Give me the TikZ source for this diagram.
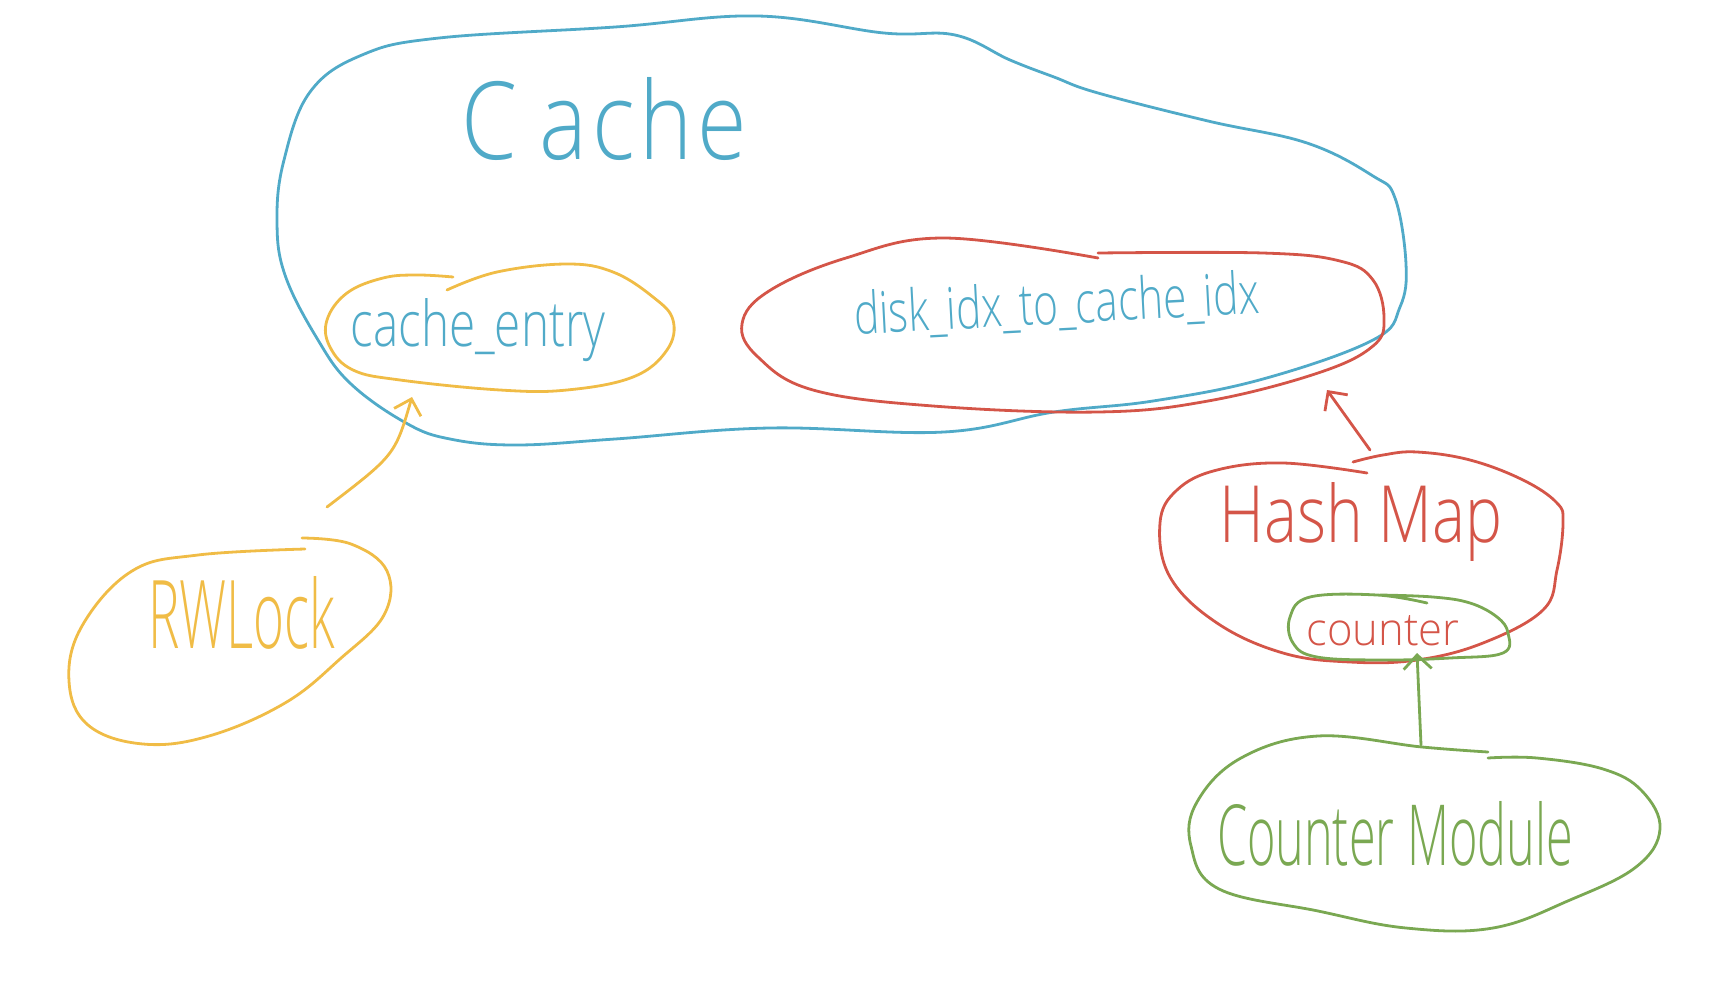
\documentclass[tikz,border=0pt]{standalone}
\usepackage{fontspec}
\setmainfont{Open Sans Light}
\usepackage{graphicx}
\usetikzlibrary{arrows.meta}
\definecolor{cblue}{RGB}{80,170,200}
\definecolor{cyellow}{RGB}{240,188,70}
\definecolor{cred}{RGB}{212,85,72}
\definecolor{cgreen}{RGB}{122,168,82}
\begin{document}
\begin{tikzpicture}[x=1pt,y=-1pt,
  blob/.style={line width=2.8pt, line cap=round, line join=round},
  lbl/.style={inner sep=0pt, anchor=base},
  hand/.style={-{Straight Barb[length=14pt,width=28pt]}, line width=2.8pt, line cap=round, line join=round}]
\useasboundingbox (0,0) rectangle (1722,986);

% Cache blob
\draw[blob, cblue] plot[smooth cycle, tension=0.65] coordinates {
 (884,33) (758,16) (615,27) (439,38) (362,55) (310,92) (284,160) (277,220)
 (285,275) (318,340) (351,384) (406,423) (450,439) (516,445) (615,439)
 (769,428) (944,432) (1054,412) (1153,401) (1263,379) (1373,340) (1400,307)
 (1406,264) (1395,198) (1373,176) (1307,143) (1208,121) (1098,93) (1054,77)
 (1010,60) (955,35)};
\node[lbl, text=cblue] (cache) at (604,159) {\resizebox{285pt}{82pt}{C\kern0.25em a\kern0.05em c\kern0.05em h\kern0.05em e}};

% cache_entry blob
\draw[blob, cyellow] plot[smooth, tension=0.65] coordinates {
 (447,290) (497,272) (567,264) (613,272) (653,297) (673,320) (667,350)
 (633,377) (567,390) (500,390) (400,380) (353,370) (330,347) (327,320)
 (347,293) (383,278) (417,275) (453,277)};
\node[lbl, text=cblue] (centry) at (478,346) {\resizebox{255pt}{48pt}{cache\_entry}};

% disk_idx_to_cache_idx blob
\draw[blob, cred] plot[smooth, tension=0.65] coordinates {
 (1098,258) (944,238) (846,258) (769,291) (742,324) (758,357) (813,390)
 (933,406) (1098,412) (1208,401) (1318,373) (1373,346) (1384,318)
 (1373,280) (1340,261) (1263,253) (1098,253)};
\node[lbl, text=cblue, rotate=3] (disk) at (1058,324) {\resizebox{406pt}{44pt}{disk\_idx\_to\_cache\_idx}};

% Hash Map blob
\draw[blob, cred] plot[smooth, tension=0.65] coordinates {
 (1367,473) (1283,463) (1217,470) (1177,490) (1160,523) (1170,577)
 (1217,623) (1283,653) (1350,662) (1417,660) (1483,643) (1543,610)
 (1557,570) (1563,523) (1557,503) (1523,480) (1470,460) (1417,452)
 (1383,455) (1353,462)};
\node[lbl, text=cred] (hash) at (1361,542) {\resizebox{283pt}{60pt}{Hash Map}};

% counter blob
\draw[blob, cgreen] plot[smooth, tension=0.65] coordinates {
 (1427,603) (1377,595) (1310,597) (1290,617) (1293,643) (1317,657)
 (1383,660) (1450,658) (1503,653) (1508,633) (1497,617) (1470,603)
 (1433,597) (1380,595)};
\node[lbl, text=cred] (counter) at (1383,645) {\resizebox{153pt}{30pt}{counter}};

% Counter Module blob
\draw[blob, cgreen] plot[smooth, tension=0.65] coordinates {
 (1488,752) (1422,747) (1318,736) (1241,758) (1197,802) (1191,846)
 (1219,889) (1318,911) (1406,928) (1493,928) (1570,900) (1636,867)
 (1660,829) (1642,791) (1603,769) (1537,758) (1488,758)};
\node[lbl, text=cgreen] (cmod) at (1395,865) {\resizebox{356pt}{64pt}{Counter Module}};

% RWLock blob
\draw[blob, cyellow] plot[smooth, tension=0.65] coordinates {
 (305,549) (198,555) (132,571) (82,626) (69,681) (88,725) (143,744)
 (209,736) (285,703) (340,659) (384,615) (387,571) (351,544) (302,538)};
\node[lbl, text=cyellow] (rwlock) at (242,648) {\resizebox{187pt}{72pt}{RWLock}};

% connectors
\coordinate (rwtop) at (327,507);
\coordinate (cebot) at (412,397);
\draw[hand, cyellow] (rwtop) .. controls (395,455) .. (cebot);

\coordinate (hmtop) at (1370,450);
\coordinate (dkbot) at (1327,390);
\draw[hand, cred] (hmtop) -- (dkbot);

\coordinate (cmtop) at (1421,745);
\coordinate (ctbot) at (1417,653);
\draw[hand, cgreen] (cmtop) -- (ctbot);
\end{tikzpicture}
\end{document}
